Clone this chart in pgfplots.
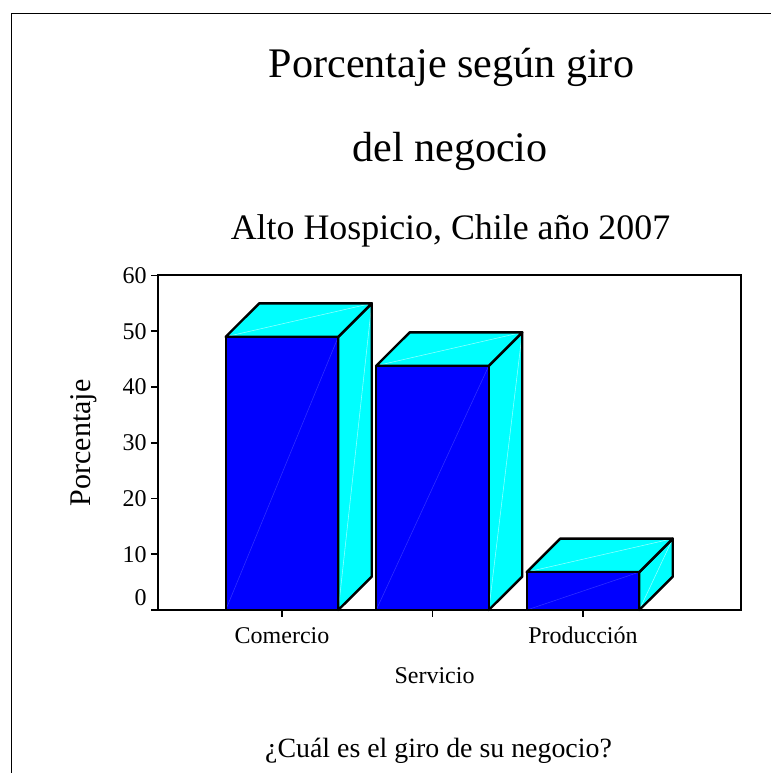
\documentclass[border=0pt]{standalone}
\usepackage{pgfplots}
\pgfplotsset{compat=1.18}
\usepackage{fontspec}
\setmainfont{Liberation Serif}
\definecolor{barblue}{RGB}{0,0,255}
\definecolor{barcyan}{RGB}{0,255,255}
\definecolor{bluediag}{RGB}{50,50,255}
\definecolor{cyandiag}{RGB}{150,255,255}
\newcommand{\px}[2]{({#1*0.75pt},{(773-#2)*0.75pt})}
\begin{document}
\begin{tikzpicture}
\path[use as bounding box] (0,0) rectangle (578.25pt,579.75pt);
\draw[black,line width=1.3pt] \px{11.5}{773} -- \px{11.5}{13.5} -- \px{771}{13.5};
\node[anchor=base,font=\fontsize{31.6pt}{32pt}\selectfont] at \px{451.5}{78} {Porcentaje según giro};
\node[anchor=base,font=\fontsize{31.6pt}{32pt}\selectfont] at \px{450}{162} {del negocio};
\node[anchor=base,font=\fontsize{26.9pt}{30pt}\selectfont] at \px{450.5}{240} {Alto Hospicio, Chile año 2007};
\node[anchor=base,font=\fontsize{20.9pt}{24pt}\selectfont] at \px{438.5}{757} {¿Cuál es el giro de su negocio?};
\begin{axis}[
  at={(118.5pt,122.25pt)}, anchor=south west,
  scale only axis, width=437.25pt, height=250.9pt,
  xmin=-0.824, xmax=3.05, ymin=0, ymax=60,
  axis line style={black,line width=1.5pt},
  xtick={0,1,2}, ytick={0,10,20,30,40,50,60},
  xticklabels={Comercio,{\raisebox{-30pt}[14pt][0pt]{\hspace{3pt}Servicio}},Producción},
  yticklabels={{\raisebox{9pt}[12pt][0pt]{0}},10,20,30,40,50,60},
  tick style={black,line width=1.3pt},
  tick align=outside, tickpos=left,
  major tick length=5pt,
  tick label style={font=\fontsize{18pt}{20pt}\selectfont},
  x tick label style={text height=14pt,yshift=-2.5pt},
  ylabel={Porcentaje},
  every axis y label/.style={at={(axis description cs:-0.128,0.5)},rotate=90,anchor=center,font=\fontsize{22.5pt}{24pt}\selectfont},
  clip=false,
  face/.style={draw=none,forget plot},
  edge/.style={draw=black,line width=1.8pt,line join=round,forget plot},
  dblue/.style={bluediag,line width=0.4pt,forget plot},
  dcyan/.style={cyandiag,line width=0.4pt,forget plot},
]
% --- Comercio (49)
\addplot[face,fill=barcyan] coordinates {(0.374,0)(0.5966,6)(0.5966,55)(0.374,49)} -- cycle;
\addplot[dcyan] coordinates {(0.374,0)(0.5966,55)};
\addplot[edge] coordinates {(0.374,0)(0.5966,6)(0.5966,55)(0.374,49)} -- cycle;
\addplot[face,fill=barcyan] coordinates {(-0.374,49)(0.374,49)(0.5966,55)(-0.1514,55)} -- cycle;
\addplot[dcyan] coordinates {(-0.374,49)(0.5966,55)};
\addplot[edge] coordinates {(-0.374,49)(0.374,49)(0.5966,55)(-0.1514,55)} -- cycle;
\addplot[face,fill=barblue] coordinates {(-0.374,0)(0.374,0)(0.374,49)(-0.374,49)} -- cycle;
\addplot[dblue] coordinates {(-0.374,0)(0.374,49)};
\addplot[edge] coordinates {(-0.374,0)(0.374,0)(0.374,49)(-0.374,49)} -- cycle;
% --- Servicio (43.8)
\addplot[face,fill=barcyan] coordinates {(1.374,0)(1.5966,6)(1.5966,49.8)(1.374,43.8)} -- cycle;
\addplot[dcyan] coordinates {(1.374,0)(1.5966,49.8)};
\addplot[edge] coordinates {(1.374,0)(1.5966,6)(1.5966,49.8)(1.374,43.8)} -- cycle;
\addplot[face,fill=barcyan] coordinates {(0.626,43.8)(1.374,43.8)(1.5966,49.8)(0.8486,49.8)} -- cycle;
\addplot[dcyan] coordinates {(0.626,43.8)(1.5966,49.8)};
\addplot[edge] coordinates {(0.626,43.8)(1.374,43.8)(1.5966,49.8)(0.8486,49.8)} -- cycle;
\addplot[face,fill=barblue] coordinates {(0.626,0)(1.374,0)(1.374,43.8)(0.626,43.8)} -- cycle;
\addplot[dblue] coordinates {(0.626,0)(1.374,43.8)};
\addplot[edge] coordinates {(0.626,0)(1.374,0)(1.374,43.8)(0.626,43.8)} -- cycle;
% --- Producción (6.8)
\addplot[face,fill=barcyan] coordinates {(2.374,0)(2.5966,6)(2.5966,12.8)(2.374,6.8)} -- cycle;
\addplot[dcyan] coordinates {(2.374,0)(2.5966,12.8)};
\addplot[edge] coordinates {(2.374,0)(2.5966,6)(2.5966,12.8)(2.374,6.8)} -- cycle;
\addplot[face,fill=barcyan] coordinates {(1.626,6.8)(2.374,6.8)(2.5966,12.8)(1.8486,12.8)} -- cycle;
\addplot[dcyan] coordinates {(1.626,6.8)(2.5966,12.8)};
\addplot[edge] coordinates {(1.626,6.8)(2.374,6.8)(2.5966,12.8)(1.8486,12.8)} -- cycle;
\addplot[face,fill=barblue] coordinates {(1.626,0)(2.374,0)(2.374,6.8)(1.626,6.8)} -- cycle;
\addplot[dblue] coordinates {(1.626,0)(2.374,6.8)};
\addplot[edge] coordinates {(1.626,0)(2.374,0)(2.374,6.8)(1.626,6.8)} -- cycle;
\end{axis}
\end{tikzpicture}
\end{document}
